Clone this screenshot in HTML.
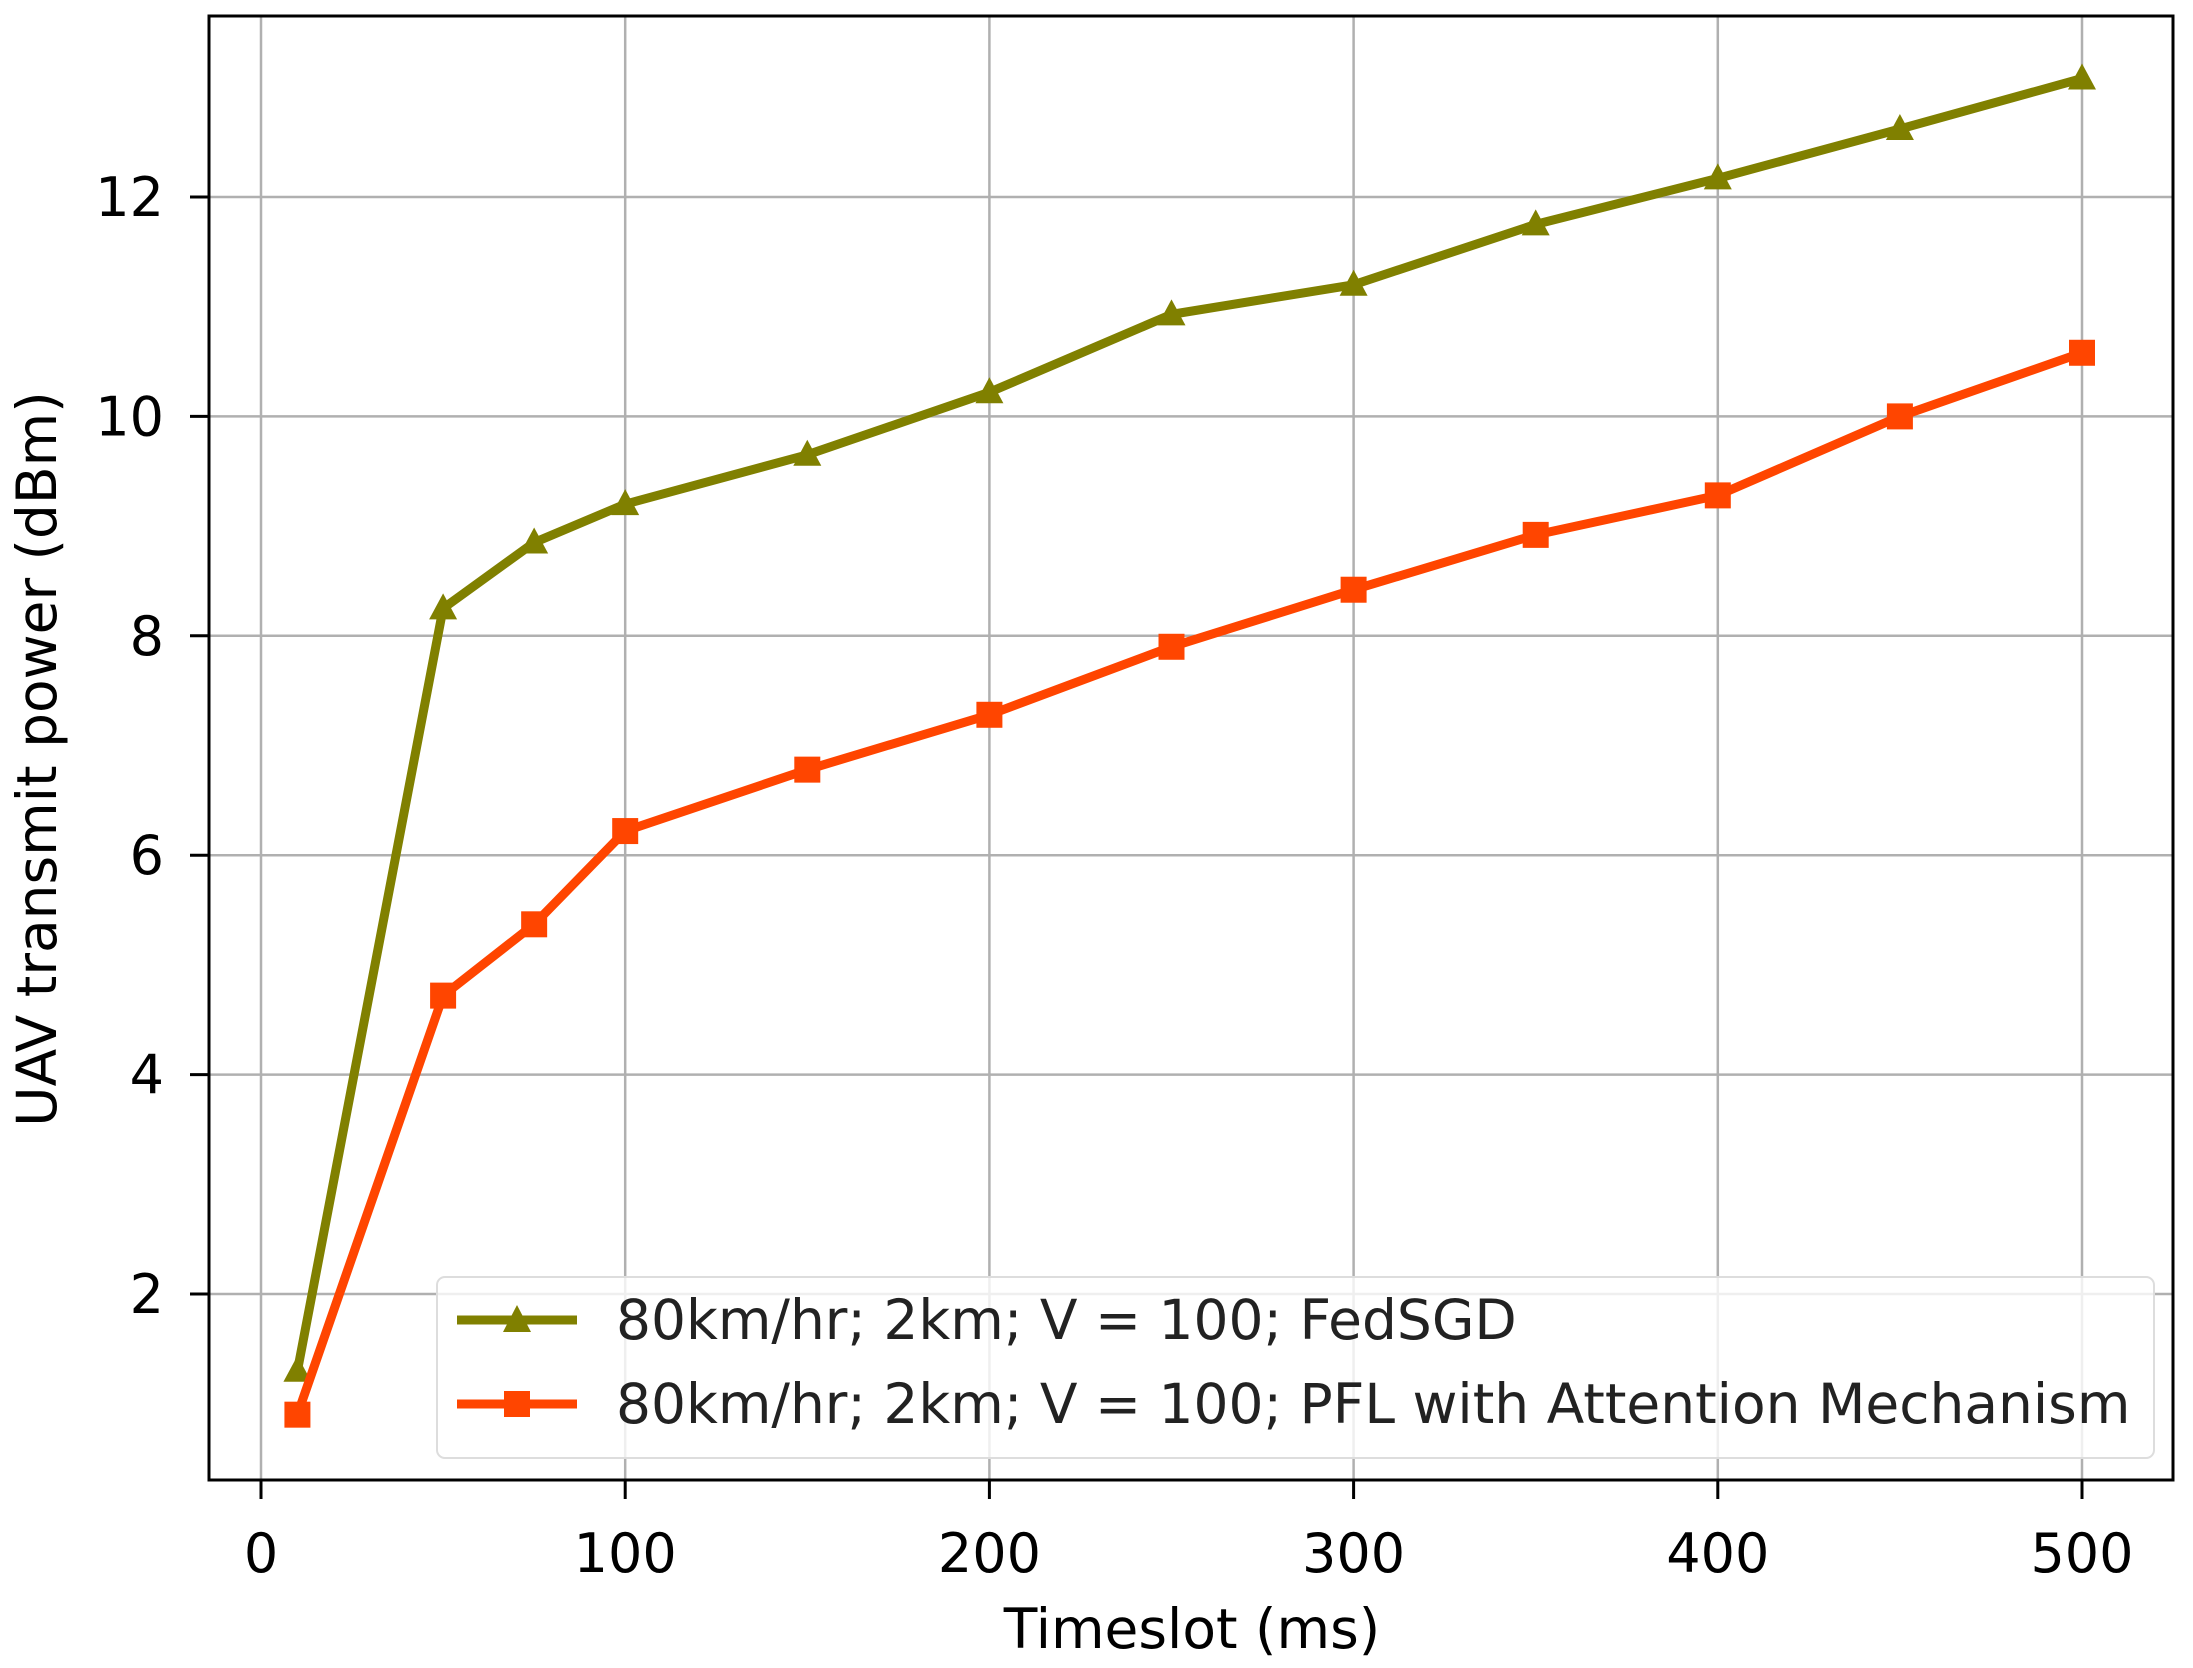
<!DOCTYPE html>
<html><head><meta charset="utf-8">
<style>
html,body{margin:0;padding:0;background:#fff;}
svg{display:block;font-family:"DejaVu Sans","Liberation Sans",sans-serif;}
</style></head>
<body>
<svg id="chart" width="2193" height="1668" viewBox="0 0 2193 1668" xmlns="http://www.w3.org/2000/svg">
<g id="grid"></g>
<g id="series"></g>
<rect x="209" y="16" width="1964" height="1464" fill="none" stroke="#000" stroke-width="3"/>
<g id="ticks"></g>
<text x="1192" y="1648" text-anchor="middle" font-size="55" fill="#000">Timeslot (ms)</text>
<text transform="translate(56,759) rotate(-90)" text-anchor="middle" font-size="55" fill="#000">UAV transmit power (dBm)</text>
<g>
<rect x="437" y="1277" width="1717" height="181" rx="8" fill="#fff" fill-opacity="0.8" stroke="#ddd" stroke-width="2"/>
<g>
<line x1="457" y1="1320" x2="577" y2="1320" stroke="#808000" stroke-width="9"/>
<polygon points="517,1305 531,1332 503,1332" fill="#808000"/>
<text x="616" y="1339" font-size="55" fill="#222">80km/hr; 2km; V = 100; FedSGD</text>
</g>
<g>
<line x1="457" y1="1404" x2="577" y2="1404" stroke="#ff4500" stroke-width="9"/>
<rect x="504" y="1391" width="26" height="26" fill="#ff4500"/>
<text x="616" y="1423" font-size="55" fill="#222">80km/hr; 2km; V = 100; PFL with Attention Mechanism</text>
</g>
</g>
</svg>
<script>
const xValues = [10, 50, 75, 100, 150, 200, 250, 300, 350, 400, 450, 500];
const fedsgd = [1.3, 8.25, 8.85, 9.2, 9.65, 10.22, 10.93, 11.2, 11.75, 12.17, 12.62, 13.08];
const pfl = [0.9, 4.72, 5.37, 6.22, 6.78, 7.28, 7.9, 8.42, 8.92, 9.28, 10.0, 10.58];
const xTicks = [0, 100, 200, 300, 400, 500];
const yTicks = [2, 4, 6, 8, 10, 12];

const NS = "http://www.w3.org/2000/svg";
function xs(v){ return 261 + (v - 0) * (2082 - 261) / 500; }
function ys(v){ return 1294 - (v - 2) * (1294 - 197) / 10; }
function mk(tag, attrs, parent){ const e = document.createElementNS(NS, tag); for (const k in attrs) e.setAttribute(k, attrs[k]); parent.appendChild(e); return e; }

const grid = document.getElementById('grid');
const ticks = document.getElementById('ticks');
xTicks.forEach(t => {
  const g = mk('line', {x1: xs(t), x2: xs(t), y1: 16, y2: 1480, stroke: '#b0b0b0', 'stroke-width': 2.5}, grid);
  
  
  const tk = mk('line', {x1: xs(t), x2: xs(t), y1: 1480, y2: 1499, stroke: '#000', 'stroke-width': 3}, ticks);
  
  
  const lb = mk('text', {x: xs(t), y: 1572, 'text-anchor': 'middle', 'font-size': 54, fill: '#000'}, ticks);
  lb.textContent = t;
  
  
});
yTicks.forEach(t => {
  const g = mk('line', {x1: 209, x2: 2173, y1: ys(t), y2: ys(t), stroke: '#b0b0b0', 'stroke-width': 2.5}, grid);
  
  
  const tk = mk('line', {x1: 190, x2: 209, y1: ys(t), y2: ys(t), stroke: '#000', 'stroke-width': 3}, ticks);
  
  
  const lb = mk('text', {x: 164, y: ys(t) + 19, 'text-anchor': 'end', 'font-size': 54, fill: '#000'}, ticks);
  lb.textContent = t;
  
  
});

const series = document.getElementById('series');
function drawSeries(vals, color, marker, name){
  const pts = xValues.map((x, i) => xs(x) + ',' + ys(vals[i])).join(' ');
  const pl = mk('polyline', {points: pts, fill: 'none', stroke: color, 'stroke-width': 9, 'stroke-linejoin': 'round'}, series);
  
  
  xValues.forEach((x, i) => {
    const cx = xs(x), cy = ys(vals[i]);
    let m;
    if (marker === 'tri') {
      m = mk('polygon', {points: (cx) + ',' + (cy - 15) + ' ' + (cx + 14) + ',' + (cy + 11) + ' ' + (cx - 14) + ',' + (cy + 11), fill: color}, series);
    } else {
      m = mk('rect', {x: cx - 13, y: cy - 13, width: 26, height: 26, fill: color}, series);
    }
    
    
  });
}
drawSeries(fedsgd, '#808000', 'tri', 'fedsgd');
drawSeries(pfl, '#ff4500', 'sq', 'pfl');
</script>
</body></html>
